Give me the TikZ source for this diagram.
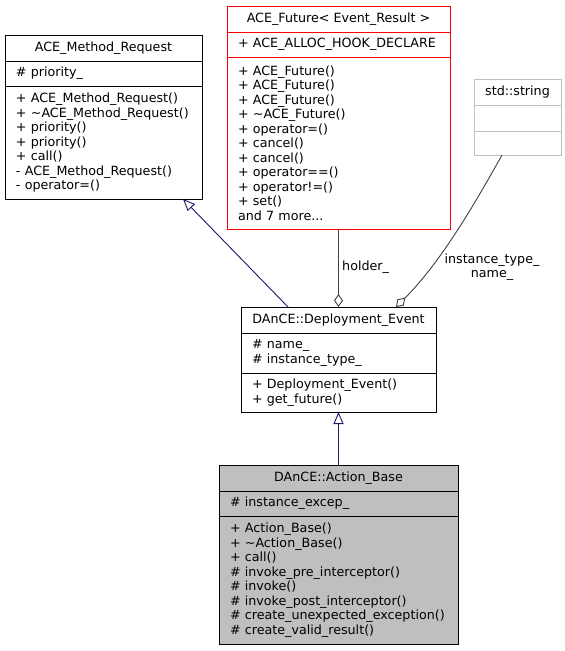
\documentclass[tikz,border=0pt]{standalone}
\usepackage{fontspec}
\setmainfont{DejaVu Sans}
\usetikzlibrary{arrows.meta,positioning}

\definecolor{inhblue}{HTML}{191970}
\definecolor{aggrey}{HTML}{404040}
\definecolor{boxred}{HTML}{FF0000}
\definecolor{boxgrey}{HTML}{BFBFBF}
\newcommand{\umlfont}{\fontsize{12.7}{14.5}\selectfont}

\begin{document}
\begin{tikzpicture}[
    x=1pt, y=-1pt,
    head/.style={
        draw,
        line width=0.9pt,
        fill=white,
        align=center,
        font=\umlfont,
        inner sep=0pt,
        outer sep=0pt,
        anchor=north west,
        minimum height=26pt
    },
    part/.style={
        draw,
        line width=0.9pt,
        fill=white,
        align=left,
        font=\umlfont,
        inner xsep=11pt,
        inner ysep=0pt,
        outer sep=0pt
    },
    inherit/.style={-{Triangle[open, length=12pt, width=10pt]}, inhblue, line width=0.9pt},
    aggr/.style={-{Diamond[open, length=13pt, width=9pt]}, aggrey, line width=0.9pt},
    edgetext/.style={font=\umlfont, inner sep=1pt},
    node distance=0pt
]
\useasboundingbox (0,0) rectangle (565,651);

% base class
\node[head, minimum width=197pt] (reqname) at (5,35) {ACE\_Method\_Request};
\node[part, below=of reqname, text width=175pt, minimum height=25pt] (reqattr) {\# priority\_};
\node[part, below=of reqattr, text width=175pt, minimum height=113pt] (reqops) {+ ACE\_Method\_Request()\\+ \textasciitilde ACE\_Method\_Request()\\+ priority()\\+ priority()\\+ call()\\- ACE\_Method\_Request()\\- operator=()};

% future
\node[head, draw=boxred, minimum width=223pt] (futname) at (227,6) {ACE\_Future< Event\_Result >};
\node[part, draw=boxred, below=of futname, text width=201pt, minimum height=25pt] (futattr) {+ ACE\_ALLOC\_HOOK\_DECLARE};
\node[part, draw=boxred, below=of futattr, text width=201pt, minimum height=172pt] (futops) {+ ACE\_Future()\\+ ACE\_Future()\\+ ACE\_Future()\\+ \textasciitilde ACE\_Future()\\+ operator=()\\+ cancel()\\+ cancel()\\+ operator==()\\+ operator!=()\\+ set()\\and 7 more...};

% string
\node[head, draw=boxgrey, minimum width=87pt] (strname) at (474,79) {std::string};
\node[part, draw=boxgrey, below=of strname, text width=65pt, minimum height=26pt] (strattr) {};
\node[part, draw=boxgrey, below=of strattr, text width=65pt, minimum height=24pt] (strops) {};

% deployment event
\node[head, minimum width=195pt] (depname) at (241,307) {DAnCE::Deployment\_Event};
\node[part, below=of depname, text width=173pt, minimum height=40pt] (depattr) {\# name\_\\\# instance\_type\_};
\node[part, below=of depattr, text width=173pt, minimum height=39pt] (depops) {+ Deployment\_Event()\\+ get\_future()};

% action base
\node[head, fill=boxgrey, minimum width=239pt] (actname) at (219,465) {DAnCE::Action\_Base};
\node[part, fill=boxgrey, below=of actname, text width=217pt, minimum height=25pt] (actattr) {\# instance\_excep\_};
\node[part, fill=boxgrey, below=of actattr, text width=217pt, minimum height=128pt] (actops) {+ Action\_Base()\\+ \textasciitilde Action\_Base()\\+ call()\\\# invoke\_pre\_interceptor()\\\# invoke()\\\# invoke\_post\_interceptor()\\\# create\_unexpected\_exception()\\\# create\_valid\_result()};

\draw[inherit] ([xshift=47pt]depname.north west) -- ([xshift=-19pt]reqops.south east);
\draw[inherit] (actname) -- (depops);
\draw[aggr] (futops) -- (depname);
\draw[aggr] ([xshift=-15.5pt]strops.south) .. controls +(-28,50) and +(45,-45) .. ([xshift=57.5pt]depname.north);

\node[edgetext, anchor=west] (holdertext) at (341,267) {holder\_};
\node[edgetext, align=center] (membertext) at (492,267) {instance\_type\_\\name\_};
\end{tikzpicture}
\end{document}
